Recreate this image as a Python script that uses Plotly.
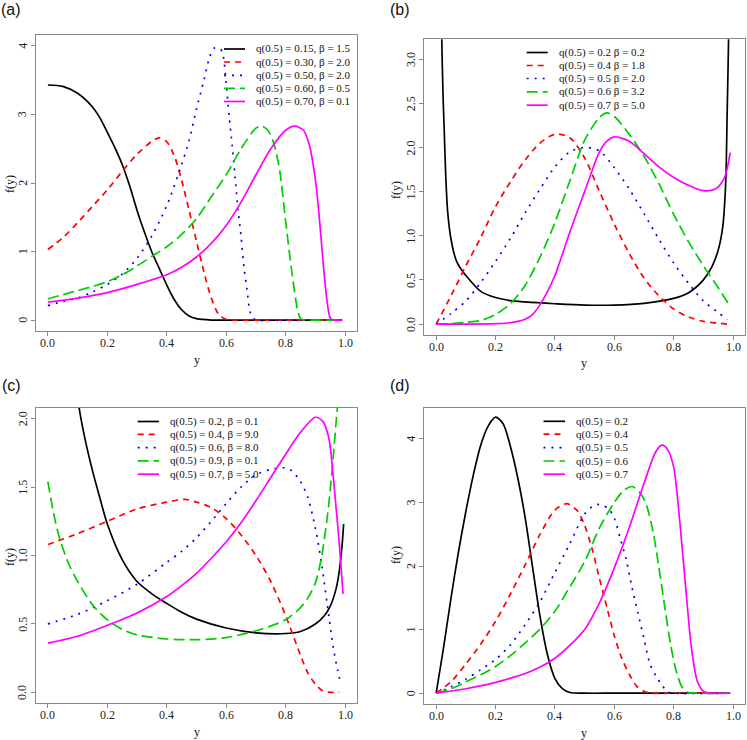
import plotly.graph_objects as go

# ---------------- data ----------------
# Panel (a)
A_BLACK_X = [0, .05, .1, .15, .175, .2, .225, .25, .275, .3, .325, .35, .375, .4, .425, .45, .475, .5, .55, .6, .7, .8, .9, .99]
A_BLACK_Y = [3.43, 3.41, 3.31, 3.11, 2.95, 2.74, 2.52, 2.27, 1.96, 1.6, 1.28, 0.99, 0.75, 0.51, 0.3, 0.15, 0.06, 0.02, 0, 0, 0, 0, 0, 0]
A_RED_X = [0, .05, .1, .15, .2, .25, .3, .35, .375, .4, .425, .45, .475, .5, .525, .55, .575, .6, .65, .8, .99]
A_RED_Y = [1.03, 1.2, 1.42, 1.66, 1.9, 2.17, 2.42, 2.61, 2.66, 2.6, 2.4, 2.04, 1.6, 1.15, 0.7, 0.32, 0.08, 0.01, 0, 0, 0]
A_BLUE_X = [0, .05, .1, .15, .2, .25, .3, .35, .4, .45, .475, .5, .525, .545, .56, .58, .59, .6, .61, .62, .63, .64, .65, .66, .67, .68, .69, .7, .8, .99]
A_BLUE_Y = [0.21, 0.27, 0.32, 0.41, 0.52, 0.67, 0.9, 1.23, 1.67, 2.27, 2.62, 3.08, 3.5, 3.85, 3.97, 3.96, 3.85, 3.45, 2.97, 2.55, 2.08, 1.6, 1.22, 0.76, 0.44, 0.12, 0.03, 0, 0, 0]
A_GREEN_X = [0, .05, .1, .15, .2, .25, .3, .35, .4, .45, .5, .55, .6, .65, .7, .72, .74, .76, .78, .8, .82, .84, .85, .86, .9, .99]
A_GREEN_Y = [0.31, 0.37, 0.43, 0.49, 0.56, 0.66, 0.79, 0.93, 1.07, 1.25, 1.48, 1.8, 2.12, 2.5, 2.8, 2.83, 2.77, 2.58, 2.18, 1.44, 0.73, 0.15, 0.02, 0, 0, 0]
A_MAG_X = [0, .1, .2, .3, .4, .45, .5, .55, .6, .65, .7, .75, .8, .83, .86, .88, .9, .91, .92, .93, .94, .95, .96, .99]
A_MAG_Y = [0.26, 0.32, 0.4, 0.52, 0.66, 0.77, 0.92, 1.12, 1.38, 1.72, 2.12, 2.5, 2.77, 2.83, 2.77, 2.55, 2.05, 1.65, 1.15, 0.65, 0.25, 0.03, 0, 0]

# Panel (b)
B_BLACK_X = [0.012, .015, .019, .023, .027, .032, .038, .045, .05, .06, .07, .08, .1, .15, .2, .25, .3, .4, .5, .6, .7, .8, .85, .9, .93, .95, .965, .975, .98, .985, .99]
B_BLACK_Y = [7.0, 5.0, 3.22, 2.6, 2.2, 1.7, 1.3, 1.07, 0.96, 0.8, 0.7, 0.64, 0.55, 0.37, 0.3, 0.265, 0.25, 0.23, 0.215, 0.215, 0.235, 0.29, 0.355, 0.5, 0.66, 0.84, 1.1, 1.6, 2.4, 3.3, 5.0]
B_RED_X = [0, .05, .1, .15, .2, .25, .3, .35, .4, .45, .5, .55, .6, .65, .7, .75, .8, .85, .9, .95, .98]
B_RED_Y = [0, 0.32, 0.66, 0.98, 1.33, 1.61, 1.86, 2.05, 2.15, 2.11, 1.88, 1.5, 1.13, 0.8, 0.52, 0.32, 0.17, 0.08, 0.03, 0.01, 0.0]
B_BLUE_X = [0, .05, .1, .15, .2, .25, .3, .35, .4, .45, .5, .55, .6, .65, .7, .75, .8, .85, .9, .95, .98]
B_BLUE_Y = [0, 0.12, 0.26, 0.47, 0.71, 0.97, 1.26, 1.53, 1.78, 1.95, 2.0, 1.96, 1.77, 1.53, 1.25, 0.96, 0.69, 0.46, 0.26, 0.13, 0.05]
B_GREEN_X = [0, .05, .1, .15, .2, .25, .3, .35, .4, .45, .5, .55, .575, .6, .65, .7, .75, .8, .85, .9, .95, .99]
B_GREEN_Y = [0, 0.005, 0.02, 0.04, 0.11, 0.23, 0.44, 0.76, 1.15, 1.62, 2.08, 2.34, 2.39, 2.35, 2.15, 1.9, 1.59, 1.24, 0.93, 0.66, 0.41, 0.2]
B_MAG_X = [0, .1, .2, .25, .275, .3, .325, .35, .375, .4, .45, .5, .55, .575, .6, .65, .7, .75, .8, .85, .9, .94, .97, .99]
B_MAG_Y = [0, 0, 0.005, 0.015, 0.03, 0.055, 0.11, 0.22, 0.37, 0.55, 1.04, 1.5, 1.95, 2.07, 2.12, 2.07, 1.93, 1.78, 1.66, 1.57, 1.51, 1.53, 1.65, 1.94]

# Panel (c)
C_BLACK_X = [0.09, .1, .105, .125, .15, .175, .2, .25, .3, .35, .4, .45, .5, .6, .7, .8, .85, .9, .93, .95, .97, .98, .99, .995]
C_BLACK_Y = [2.4, 2.18, 2.08, 1.85, 1.62, 1.42, 1.23, 0.97, 0.81, 0.72, 0.65, 0.585, 0.535, 0.47, 0.435, 0.43, 0.445, 0.5, 0.56, 0.63, 0.76, 0.88, 1.08, 1.23]
C_RED_X = [0, .1, .2, .3, .4, .46, .5, .55, .6, .65, .7, .75, .8, .85, .875, .9, .925, .95, .98]
C_RED_Y = [1.08, 1.16, 1.25, 1.34, 1.39, 1.41, 1.39, 1.35, 1.27, 1.15, 1.0, 0.81, 0.56, 0.27, 0.14, 0.06, 0.01, 0.0, 0.0]
C_BLUE_X = [0, .1, .2, .3, .4, .45, .5, .55, .6, .65, .7, .75, .78, .8, .82, .85, .875, .9, .92, .94, .96, .975, .986]
C_BLUE_Y = [0.5, 0.57, 0.67, 0.79, 0.95, 1.03, 1.13, 1.25, 1.38, 1.5, 1.59, 1.63, 1.64, 1.64, 1.62, 1.54, 1.42, 1.2, 0.95, 0.64, 0.33, 0.16, 0.06]
C_GREEN_X = [0, .02, .04, .07, .1, .15, .2, .25, .3, .4, .5, .6, .7, .8, .85, .875, .9, .92, .94, .95, .96, .97, .98]
C_GREEN_Y = [1.54, 1.3, 1.12, 0.94, 0.81, 0.64, 0.53, 0.46, 0.42, 0.39, 0.385, 0.4, 0.45, 0.53, 0.62, 0.69, 0.8, 0.98, 1.28, 1.48, 1.72, 1.98, 2.25]
C_MAG_X = [0, .1, .2, .3, .4, .45, .5, .55, .6, .65, .7, .75, .8, .85, .9, .925, .945, .96, .97, .98, .993]
C_MAG_Y = [0.36, 0.41, 0.49, 0.58, 0.7, 0.78, 0.87, 0.98, 1.1, 1.24, 1.4, 1.57, 1.74, 1.9, 2.01, 1.98, 1.86, 1.58, 1.34, 1.1, 0.72]

# Panel (d)
D_BLACK_X = [0, .025, .05, .075, .1, .125, .15, .175, .2, .225, .25, .275, .3, .325, .35, .375, .4, .425, .45, .5, .6, .8, .99]
D_BLACK_Y = [0, 0.72, 1.5, 2.22, 2.86, 3.43, 3.9, 4.2, 4.34, 4.24, 3.88, 3.38, 2.75, 1.97, 1.2, 0.6, 0.23, 0.07, 0.01, 0, 0, 0, 0]
D_RED_X = [0, .05, .1, .15, .2, .25, .3, .35, .4, .44, .475, .5, .525, .55, .575, .6, .625, .65, .675, .7, .725, .8, .99]
D_RED_Y = [0, 0.18, 0.46, 0.77, 1.13, 1.56, 2.02, 2.5, 2.88, 2.98, 2.87, 2.64, 2.27, 1.8, 1.35, 0.9, 0.55, 0.3, 0.11, 0.03, 0, 0, 0]
D_BLUE_X = [0, .05, .1, .15, .2, .25, .3, .35, .4, .45, .5, .525, .55, .58, .6, .62, .64, .66, .68, .7, .72, .74, .76, .78, .8, .99]
D_BLUE_Y = [0, 0.1, 0.22, 0.37, 0.53, 0.76, 1.08, 1.44, 1.9, 2.35, 2.82, 2.93, 2.97, 2.9, 2.75, 2.43, 2.1, 1.65, 1.25, 0.85, 0.46, 0.27, 0.13, 0.02, 0, 0]
D_GREEN_X = [0, .05, .1, .15, .2, .25, .3, .35, .4, .45, .5, .55, .6, .63, .66, .69, .71, .73, .75, .77, .79, .81, .83, .85, .87, .99]
D_GREEN_Y = [0, 0.07, 0.18, 0.29, 0.42, 0.59, 0.79, 1.01, 1.29, 1.67, 2.07, 2.6, 3.0, 3.18, 3.25, 3.13, 2.93, 2.55, 1.98, 1.35, 0.75, 0.32, 0.08, 0.01, 0, 0]
D_MAG_X = [0, .1, .2, .3, .35, .4, .45, .5, .55, .6, .65, .7, .74, .76, .78, .8, .82, .84, .86, .88, .9, .92, .99]
D_MAG_Y = [0, 0.07, 0.17, 0.31, 0.41, 0.55, 0.75, 1.0, 1.42, 1.97, 2.6, 3.3, 3.8, 3.9, 3.83, 3.55, 2.72, 1.68, 0.7, 0.18, 0.03, 0, 0]

# Legend labels
A_LABELS = ["q(0.5) = 0.15, β = 1.5", "q(0.5) = 0.30, β = 2.0", "q(0.5) = 0.50, β = 2.0",
            "q(0.5) = 0.60, β = 0.5", "q(0.5) = 0.70, β = 0.1"]
B_LABELS = ["q(0.5) = 0.2 β = 0.2", "q(0.5) = 0.4 β = 1.8", "q(0.5) = 0.5 β = 2.0",
            "q(0.5) = 0.6 β = 3.2", "q(0.5) = 0.7 β = 5.0"]
C_LABELS = ["q(0.5) = 0.2, β = 0.1", "q(0.5) = 0.4, β = 9.0", "q(0.5) = 0.6, β = 8.0",
            "q(0.5) = 0.9, β = 0.1", "q(0.5) = 0.7, β = 5.0"]
D_LABELS = ["q(0.5) = 0.2", "q(0.5) = 0.4", "q(0.5) = 0.5", "q(0.5) = 0.6", "q(0.5) = 0.7"]

X_TICKS = [0, 0.2, 0.4, 0.6, 0.8, 1.0]
X_TICKTEXT = ["0.0", "0.2", "0.4", "0.6", "0.8", "1.0"]
A_YTICKS = [0, 1, 2, 3, 4]
A_YTEXT = ["0", "1", "2", "3", "4"]
B_YTICKS = [0, 0.5, 1.0, 1.5, 2.0, 2.5, 3.0]
B_YTEXT = ["0.0", "0.5", "1.0", "1.5", "2.0", "2.5", "3.0"]
C_YTICKS = [0, 0.5, 1.0, 1.5, 2.0]
C_YTEXT = ["0.0", "0.5", "1.0", "1.5", "2.0"]
D_YTICKS = [0, 1, 2, 3, 4]
D_YTEXT = ["0", "1", "2", "3", "4"]

# ---------------- styling ----------------
W, H = 747, 740
COLORS = ["#000000", "#FF0000", "#0000FF", "#00CD00", "#FF00FF"]
DASHES = ["solid", "6px,5px", "2px,6px", "11px,5px", "solid"]
LW = 1.7
SERIF = "Liberation Serif, Times New Roman, serif"
SANS = "Liberation Sans, Arial, sans-serif"
BOX = "#8a8a8a"
LEG_FONT = 11
TICK_FONT = dict(family=SERIF, size=12, color="#222")

def px(x):
    return x / W

def py(y):
    return 1 - y / H

panels = [
    dict(name="a", xs=[A_BLACK_X, A_RED_X, A_BLUE_X, A_GREEN_X, A_MAG_X],
         ys=[A_BLACK_Y, A_RED_Y, A_BLUE_Y, A_GREEN_Y, A_MAG_Y], labels=A_LABELS,
         xdom=[36, 357], ydom=[35, 331], yrange=[-0.16, 4.16], ytv=A_YTICKS, ytt=A_YTEXT,
         leg=(224, 245, 254, [49, 62, 75.3, 88.3, 101.5]),
         tag=(11, 10), ylab=(10, 184), xlab=(197, 360)),
    dict(name="b", xs=[B_BLACK_X, B_RED_X, B_BLUE_X, B_GREEN_X, B_MAG_X],
         ys=[B_BLACK_Y, B_RED_Y, B_BLUE_Y, B_GREEN_Y, B_MAG_Y], labels=B_LABELS,
         xdom=[424.3, 745], ydom=[39.3, 335], yrange=[-0.124, 3.224], ytv=B_YTICKS, ytt=B_YTEXT,
         leg=(526.7, 547.7, 556.7, [52.5, 65.5, 78.5, 91.8, 105.2]),
         tag=(400, 10), ylab=(396, 190), xlab=(584, 363)),
    dict(name="c", xs=[C_BLACK_X, C_RED_X, C_BLUE_X, C_GREEN_X, C_MAG_X],
         ys=[C_BLACK_Y, C_RED_Y, C_BLUE_Y, C_GREEN_Y, C_MAG_Y], labels=C_LABELS,
         xdom=[36, 357], ydom=[407.7, 703.3], yrange=[-0.08, 2.08], ytv=C_YTICKS, ytt=C_YTEXT,
         leg=(137.7, 159, 167.7, [421.5, 434.4, 447.7, 460.8, 474.2]),
         tag=(11, 385), ylab=(10, 557), xlab=(197, 732)),
    dict(name="d", xs=[D_BLACK_X, D_RED_X, D_BLUE_X, D_GREEN_X, D_MAG_X],
         ys=[D_BLACK_Y, D_RED_Y, D_BLUE_Y, D_GREEN_Y, D_MAG_Y], labels=D_LABELS,
         xdom=[424.3, 745], ydom=[408.3, 704.3], yrange=[-0.175, 4.48], ytv=D_YTICKS, ytt=D_YTEXT,
         leg=(543.5, 565, 574, [421.3, 434.2, 447.7, 461, 474.2]),
         tag=(400, 385), ylab=(396, 555), xlab=(584, 733)),
]

fig = go.Figure()
shapes = []
annotations = []
layout_axes = {}

for i, p in enumerate(panels):
    n = "" if i == 0 else str(i + 1)
    xa, ya = "x" + n, "y" + n
    for k in range(5):
        fig.add_trace(go.Scatter(
            x=p["xs"][k], y=p["ys"][k], mode="lines", xaxis=xa, yaxis=ya,
            line=dict(color=COLORS[k], width=LW, dash=DASHES[k], shape="spline", smoothing=0.8),
            showlegend=False, hoverinfo="skip"))
    common = dict(showline=True, mirror=True, linecolor=BOX, linewidth=1,
                  ticks="outside", ticklen=4, tickcolor=BOX, tickwidth=1,
                  showgrid=False, zeroline=False, showticklabels=False)
    layout_axes["xaxis" + n] = dict(
        domain=[px(p["xdom"][0]), px(p["xdom"][1])], range=[-0.04, 1.04],
        tickvals=X_TICKS, anchor=ya, **common)
    layout_axes["yaxis" + n] = dict(
        domain=[py(p["ydom"][1]), py(p["ydom"][0])], range=p["yrange"],
        tickvals=p["ytv"], anchor=xa, **common)

    # tick labels (R style: y labels rotated, all on one line)
    for v, t in zip(X_TICKS, X_TICKTEXT):
        annotations.append(dict(text=t, xref=xa, yref="paper", x=v, y=py(p["ydom"][1] + 11.7),
                                xanchor="center", yanchor="middle", showarrow=False, font=TICK_FONT))
    for v, t in zip(p["ytv"], p["ytt"]):
        annotations.append(dict(text=t, xref="paper", yref=ya, x=px(p["xdom"][0] - 13.3), y=v,
                                textangle=-90, xanchor="center", yanchor="middle",
                                showarrow=False, font=TICK_FONT))

    # legend (R style, no box)
    x0, x1, xt, rows = p["leg"]
    for k in range(5):
        shapes.append(dict(type="line", xref="paper", yref="paper",
                           x0=px(x0), x1=px(x1), y0=py(rows[k]), y1=py(rows[k]),
                           line=dict(color=COLORS[k], width=LW, dash=DASHES[k])))
        annotations.append(dict(text=p["labels"][k], xref="paper", yref="paper",
                                x=px(xt), y=py(rows[k]), xanchor="left", yanchor="middle",
                                showarrow=False, font=dict(family=SERIF, size=LEG_FONT, color="#111")))
    # panel tag
    annotations.append(dict(text="(" + p["name"] + ")", xref="paper", yref="paper",
                            x=px(p["tag"][0]), y=py(p["tag"][1]), xanchor="center", yanchor="middle",
                            showarrow=False, font=dict(family=SANS, size=16, color="#111")))
    # axis titles
    annotations.append(dict(text="f(y)", xref="paper", yref="paper", textangle=-90,
                            x=px(p["ylab"][0]), y=py(p["ylab"][1]), xanchor="center", yanchor="middle",
                            showarrow=False, font=dict(family=SERIF, size=12, color="#111")))
    annotations.append(dict(text="y", xref="paper", yref="paper",
                            x=px(p["xlab"][0]), y=py(p["xlab"][1]), xanchor="center", yanchor="middle",
                            showarrow=False, font=dict(family=SERIF, size=12, color="#111")))

fig.update_layout(
    width=W, height=H, margin=dict(l=0, r=0, t=0, b=0),
    paper_bgcolor="white", plot_bgcolor="white",
    shapes=shapes, annotations=annotations, **layout_axes)

fig.write_html("out.html", config={"displayModeBar": False},
               post_script="document.body.style.margin='0px';")
